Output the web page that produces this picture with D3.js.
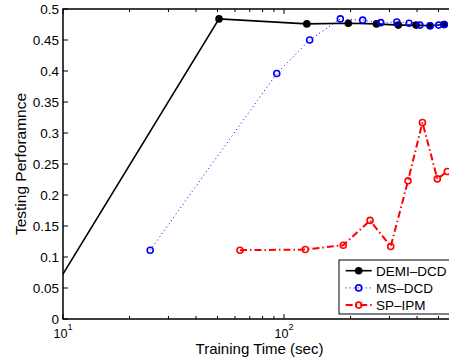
<!DOCTYPE html>
<html>
<head>
<meta charset="utf-8">
<script src="https://cdn.jsdelivr.net/npm/d3@7"></script>
<style>
  body { margin: 0; background: #fff; }
  svg { display: block; font-family: "Liberation Sans", Arial, Helvetica, sans-serif; }
</style>
</head>
<body>
<svg id="chart" width="449" height="362"></svg>
<script>
// training time (sec) / testing performance
const demiTime = [9, 50.8, 126.8, 195.5, 262, 329, 396, 458, 530];
const demiPerf = [0.046, 0.484, 0.476, 0.477, 0.476, 0.474, 0.474, 0.473, 0.475];

const msTime = [24.8, 92.7, 130.6, 179.8, 227, 274, 324, 368, 412, 458, 501, 531];
const msPerf = [0.111, 0.396, 0.450, 0.484, 0.482, 0.478, 0.479, 0.477, 0.474, 0.473, 0.474, 0.475];

const spTime = [63.2, 124.8, 185.4, 245, 304, 364, 423, 494, 548];
const spPerf = [0.111, 0.112, 0.119, 0.159, 0.117, 0.223, 0.317, 0.226, 0.238];

const yTicks = [0, 0.05, 0.1, 0.15, 0.2, 0.25, 0.3, 0.35, 0.4, 0.45, 0.5];
const xMajor = [10, 100];
const xMinor = [20, 30, 40, 50, 60, 70, 80, 90, 200, 300, 400, 500];
const legendNames = ['DEMI\u2013DCD', 'MS\u2013DCD', 'SP\u2013IPM'];

const svg = d3.select('#chart');
const mLeft = 63, mTop = 9, mRight = 456, mBottom = 319;

const x = d3.scaleLog().domain([10, 600]).range([mLeft, mRight]);
const y = d3.scaleLinear().domain([0, 0.5]).range([mBottom, mTop]);

svg.append('defs').append('clipPath').attr('id', 'plotclip')
    .append('rect').attr('x', mLeft).attr('y', mTop)
    .attr('width', mRight - mLeft).attr('height', mBottom - mTop);

const series = [
    { time: demiTime, perf: demiPerf, color: '#000000', width: 1.6, dash: null, fill: '#000000', r: 3 },
    { time: msTime, perf: msPerf, color: '#0000ff', width: 1, dash: '1,3', fill: 'none', r: 3 },
    { time: spTime, perf: spPerf, color: '#ff0000', width: 2, dash: '7,3,1.5,3', fill: 'none', r: 3 }
];

const plot = svg.append('g').attr('clip-path', 'url(#plotclip)');
const line = d3.line().x(d => x(d[0])).y(d => y(d[1]));

series.forEach(s => {
    const pts = s.time.map((t, i) => [t, s.perf[i]]);
    plot.append('path')
        .attr('d', line(pts))
        .attr('fill', 'none')
        .attr('stroke', s.color)
        .attr('stroke-width', s.width)
        .attr('stroke-dasharray', s.dash);
    plot.selectAll(null).data(pts).enter().append('circle')
        .attr('cx', d => x(d[0]))
        .attr('cy', d => y(d[1]))
        .attr('r', s.r)
        .attr('fill', s.fill)
        .attr('stroke', s.color)
        .attr('stroke-width', 1.6);
});

// axes box
const axis = svg.append('g').attr('stroke', '#000').attr('stroke-width', 1.5);
axis.append('rect').attr('x', mLeft).attr('y', mTop)
    .attr('width', mRight - mLeft).attr('height', mBottom - mTop).attr('fill', 'none');

// y ticks (inward)
yTicks.forEach(v => {
    axis.append('line').attr('x1', mLeft).attr('x2', mLeft + 5)
        .attr('y1', y(v)).attr('y2', y(v)).attr('stroke-width', 1);
    svg.append('text').attr('x', mLeft - 4).attr('y', y(v) + 5)
        .attr('text-anchor', 'end').attr('font-size', 13.5).text(String(v));
});

// x ticks top and bottom
xMajor.concat(xMinor).forEach(v => {
    const len = xMajor.includes(v) ? 5 : 3;
    axis.append('line').attr('x1', x(v)).attr('x2', x(v))
        .attr('y1', mBottom).attr('y2', mBottom - len).attr('stroke-width', 1);
    axis.append('line').attr('x1', x(v)).attr('x2', x(v))
        .attr('y1', mTop).attr('y2', mTop + len).attr('stroke-width', 1);
});
xMajor.forEach(v => {
    const t = svg.append('text').attr('x', x(v)).attr('y', 338)
        .attr('text-anchor', 'middle').attr('font-size', 12.5);
    t.append('tspan').text('10');
    t.append('tspan').attr('dy', -8).attr('font-size', 9).text(String(Math.log10(v)));
});

// axis titles
svg.append('text').attr('x', (mLeft + mRight) / 2).attr('y', 354)
    .attr('text-anchor', 'middle').attr('font-size', 15).text('Training Time (sec)');
svg.append('text')
    .attr('transform', `translate(25.5,${(mTop + mBottom) / 2}) rotate(-90)`)
    .attr('text-anchor', 'middle').attr('font-size', 15.5).text('Testing Perforamnce');

// legend
const lg = svg.append('g').attr('transform', 'translate(339,260)');
lg.append('rect').attr('width', 112).attr('height', 54)
    .attr('fill', '#fff').attr('stroke', '#000').attr('stroke-width', 1);
series.forEach((s, i) => {
    const ly = 10.7 + i * 17.2;
    lg.append('line').attr('x1', 6.7).attr('x2', 32.7).attr('y1', ly).attr('y2', ly)
        .attr('stroke', s.color).attr('stroke-width', s.width)
        .attr('stroke-dasharray', s.dash);
    lg.append('circle').attr('cx', 19.7).attr('cy', ly).attr('r', s.r)
        .attr('fill', s.fill).attr('stroke', s.color).attr('stroke-width', 1.6);
    lg.append('text').attr('x', 37).attr('y', ly + 5)
        .attr('font-size', 13.5).text(legendNames[i]);
});
</script>
</body>
</html>
